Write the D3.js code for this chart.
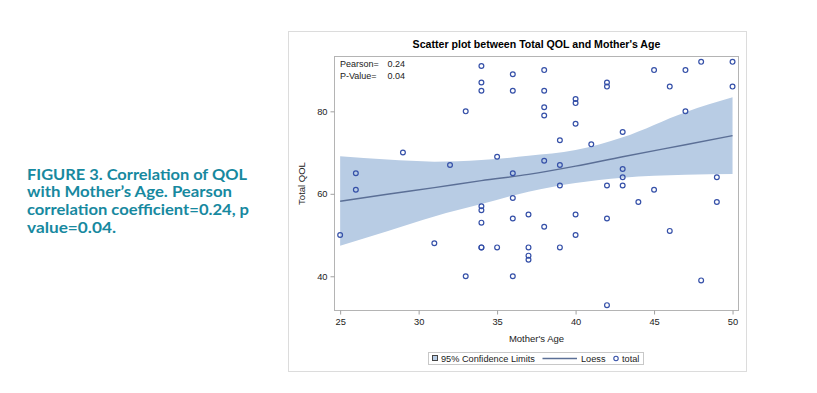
<!DOCTYPE html>
<html>
<head>
<meta charset="utf-8">
<script src="https://cdn.jsdelivr.net/npm/d3@7"></script>
<style>
  body { margin: 0; background: #fff; }
  text { font-family: "Liberation Sans", Arial, sans-serif; }
</style>
</head>
<body>
<div id="root"></div>
<script>
// Scatter points (Mother's Age, Total QOL)
const ages = [25, 26, 26, 29, 31, 32, 33, 33,
  34, 34, 34, 34, 34, 34, 34, 34,
  35, 35,
  36, 36, 36, 36, 36, 36,
  37, 37, 37, 37,
  38, 38, 38, 38, 38, 38,
  39, 39, 39, 39,
  40, 40, 40, 40, 40,
  41,
  42, 42, 42, 42, 42,
  43, 43, 43, 43,
  44,
  45, 45,
  46, 46,
  47, 47,
  48, 48,
  49, 49,
  50, 50];
const totalQol = [50, 65, 61, 70, 48, 67, 80, 40,
  91, 87, 85, 57, 56, 53, 47, 47,
  69, 47,
  89, 85, 65, 59, 54, 40,
  55, 47, 45, 44,
  90, 85, 81, 79, 68, 52,
  73, 67, 62, 47,
  83, 82, 77, 55, 50,
  72,
  87, 86, 62, 54, 33,
  75, 66, 64, 62,
  58,
  90, 61,
  86, 51,
  90, 80,
  92, 39,
  64, 58,
  92, 86];

// Loess fit and 95% confidence limits
const fitAges = [25, 28, 31, 34, 37, 40, 43, 47, 50];
const loessFit = [58.2, 59.9, 61.5, 63.2, 64.7, 66.7, 69.0, 71.9, 74.1];
const lowerCL = [47.4, 50.9, 54.5, 57.5, 60.5, 62.6, 63.9, 64.6, 64.8];
const upperCL = [69.1, 68.3, 67.8, 68.2, 69.2, 70.6, 73.7, 79.8, 83.4];

const xTicks = [25, 30, 35, 40, 45, 50];
const yTicks = [40, 60, 80];

const captionLines = ["FIGURE 3. Correlation of QOL", "with Mother\u2019s Age. Pearson",
  "correlation coefficient=0.24, p", "value=0.04."];
const captionWidths = [220, 205, 222, 89];

const statLabels = ["Pearson=", "P-Value="];
const statValues = ["0.24", "0.04"];

const w = 817;
const h = 393;

const svg = d3.select("#root")
  .append("svg")
  .attr("width", w)
  .attr("height", h);

// Caption on the left
const caption = svg.append("g").attr("fill", "#17899f");
captionLines.forEach((line, i) => {
  caption.append("text")
    .attr("x", 27)
    .attr("y", 179.5 + i * 17.8)
    .attr("textLength", captionWidths[i])
    .attr("lengthAdjust", "spacingAndGlyphs")
    .style("font-family", "Lato, 'Open Sans', sans-serif")
    .style("font-weight", "bold")
    .style("font-size", "15.5px")
    .text(line);
});

// Outer frame of the graph
svg.append("rect")
  .attr("x", 288.5)
  .attr("y", 31.5)
  .attr("width", 458)
  .attr("height", 340)
  .attr("fill", "#fff")
  .attr("stroke", "#dcdcdc");

const plot = { left: 334.5, right: 738.5, top: 56.5, bottom: 310.5 };

const x = d3.scaleLinear().domain([24.64, 50.38]).range([plot.left, plot.right]);
const y = d3.scaleLinear().domain([31.7, 93.3]).range([plot.bottom, plot.top]);

svg.append("text")
  .attr("x", (plot.left + plot.right) / 2)
  .attr("y", 48)
  .attr("text-anchor", "middle")
  .style("font-weight", "bold")
  .style("font-size", "10.6px")
  .attr("fill", "#000")
  .text("Scatter plot between Total QOL and Mother's Age");

// Confidence band
const fitData = fitAges.map((a, i) => ({ age: a, fit: loessFit[i], lo: lowerCL[i], hi: upperCL[i] }));

svg.append("path")
  .datum(fitData)
  .attr("fill", "#b8cce4")
  .attr("d", d3.area()
    .x(d => x(d.age))
    .y0(d => y(d.lo))
    .y1(d => y(d.hi))
    .curve(d3.curveMonotoneX));

svg.append("path")
  .datum(fitData)
  .attr("fill", "none")
  .attr("stroke", "#5b6f96")
  .attr("stroke-width", 1.4)
  .attr("d", d3.line()
    .x(d => x(d.age))
    .y(d => y(d.fit))
    .curve(d3.curveMonotoneX));

// Points
svg.append("g")
  .selectAll("circle")
  .data(ages.map((a, i) => ({ age: a, qol: totalQol[i] })))
  .enter()
  .append("circle")
  .attr("cx", d => x(d.age))
  .attr("cy", d => y(d.qol))
  .attr("r", 2.4)
  .attr("fill", "none")
  .attr("stroke", "#3550a8")
  .attr("stroke-width", 1.2);

// Plot border
svg.append("rect")
  .attr("x", plot.left)
  .attr("y", plot.top)
  .attr("width", plot.right - plot.left)
  .attr("height", plot.bottom - plot.top)
  .attr("fill", "none")
  .attr("stroke", "#b4b4b4");

// Axes
const xAxis = svg.append("g")
  .attr("transform", `translate(0, ${plot.bottom})`)
  .call(d3.axisBottom(x).tickValues(xTicks).tickSize(4).tickPadding(4));
const yAxis = svg.append("g")
  .attr("transform", `translate(${plot.left}, 0)`)
  .call(d3.axisLeft(y).tickValues(yTicks).tickSize(4).tickPadding(3));

[xAxis, yAxis].forEach(ax => {
  ax.select(".domain").remove();
  ax.selectAll("line").attr("stroke", "#a0a0a0");
  ax.selectAll("text")
    .attr("fill", "#222")
    .style("font-family", "'Liberation Sans', Arial, sans-serif")
    .style("font-size", "9.3px");
});

svg.append("text")
  .attr("x", (plot.left + plot.right) / 2)
  .attr("y", 341.5)
  .attr("text-anchor", "middle")
  .style("font-size", "9.5px")
  .attr("fill", "#222")
  .text("Mother's Age");

svg.append("text")
  .attr("transform", `translate(305, ${(plot.top + plot.bottom) / 2}) rotate(-90)`)
  .attr("text-anchor", "middle")
  .style("font-size", "9.5px")
  .attr("fill", "#222")
  .text("Total QOL");

// Pearson stats inset
statLabels.forEach((label, i) => {
  svg.append("text")
    .attr("x", 340)
    .attr("y", 67 + i * 11.5)
    .style("font-size", "9px")
    .attr("fill", "#222")
    .text(label);
  svg.append("text")
    .attr("x", 387.5)
    .attr("y", 67 + i * 11.5)
    .style("font-size", "9px")
    .attr("fill", "#222")
    .text(statValues[i]);
});

// Legend
const legend = svg.append("g").attr("id", "legend");
legend.append("rect")
  .attr("x", 428.5)
  .attr("y", 352.5)
  .attr("width", 215)
  .attr("height", 12)
  .attr("fill", "#fff")
  .attr("stroke", "#c8c8c8");
legend.append("rect")
  .attr("x", 432.5)
  .attr("y", 355.5)
  .attr("width", 5)
  .attr("height", 5)
  .attr("fill", "#b8cce4")
  .attr("stroke", "#444");
legend.append("text")
  .attr("x", 441)
  .attr("y", 361.5)
  .style("font-size", "9.2px")
  .attr("fill", "#222")
  .text("95% Confidence Limits");
legend.append("line")
  .attr("x1", 542.5)
  .attr("x2", 577)
  .attr("y1", 358.5)
  .attr("y2", 358.5)
  .attr("stroke", "#5b6f96")
  .attr("stroke-width", 1.4);
legend.append("text")
  .attr("x", 581)
  .attr("y", 361.5)
  .style("font-size", "9.2px")
  .attr("fill", "#222")
  .text("Loess");
legend.append("circle")
  .attr("cx", 616)
  .attr("cy", 358.5)
  .attr("r", 2.2)
  .attr("fill", "none")
  .attr("stroke", "#3550a8")
  .attr("stroke-width", 1.1);
legend.append("text")
  .attr("x", 622)
  .attr("y", 361.5)
  .style("font-size", "9.2px")
  .attr("fill", "#222")
  .text("total");
</script>
</body>
</html>
